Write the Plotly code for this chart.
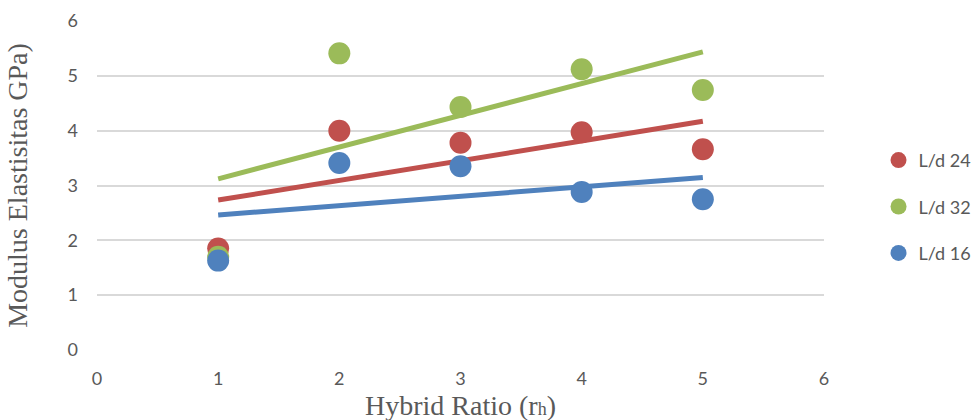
import numpy as np
import plotly.graph_objects as go

hybrid_ratio = [1, 2, 3, 4, 5]
ld24 = [1.85, 4.00, 3.78, 3.97, 3.66]
ld32 = [1.70, 5.41, 4.43, 5.12, 4.74]
ld16 = [1.63, 3.41, 3.35, 2.88, 2.75]

series = [
    ("L/d 24", ld24, "#C0504D"),
    ("L/d 32", ld32, "#9BBB59"),
    ("L/d 16", ld16, "#4F81BD"),
]

fig = go.Figure()
x = np.array(hybrid_ratio, dtype=float)
for name, ys, color in series:
    m, b = np.polyfit(x, np.array(ys), 1)
    xs = np.array([x.min(), x.max()])
    fig.add_trace(go.Scatter(x=xs, y=m * xs + b, mode="lines",
                             line=dict(color=color, width=5),
                             showlegend=False, hoverinfo="skip"))
for i, (name, ys, color) in enumerate(series):
    fig.add_trace(go.Scatter(x=hybrid_ratio, y=ys, mode="markers", name=name,
                             legendgroup=f"g{i}",
                             marker=dict(color=color, size=22)))

serif = "'Liberation Serif', 'Times New Roman', serif"
fig.update_layout(
    width=979, height=420,
    margin=dict(l=97, r=155, t=21, b=70, autoexpand=False),
    plot_bgcolor="white", paper_bgcolor="white",
    font=dict(family="Lato, 'Noto Sans', sans-serif", color="#595959", size=18),
    legend=dict(x=1.075, y=0.435, yanchor="middle", xanchor="left",
                tracegroupgap=20, font=dict(size=18, color="#595959")),
    xaxis=dict(range=[0, 6], dtick=1, showgrid=False, zeroline=False,
               showline=False, ticks="",
               tickfont=dict(size=18, color="#595959"),
               ticklabelstandoff=16),
    yaxis=dict(range=[0, 6], dtick=1, showgrid=True, gridcolor="#D9D9D9",
               gridwidth=1.5, zeroline=False, showline=False, ticks="",
               tickfont=dict(size=18, color="#595959"),
               ticklabelstandoff=18,
               title=dict(text="Modulus Elastisitas GPa)", standoff=31,
                          font=dict(family=serif, size=28, color="#595959"))),
    annotations=[dict(text="Hybrid Ratio (r<span style='font-size:18px'>h</span>)",
                      xref="paper", yref="paper",
                      x=0.5, y=-0.168, xanchor="center", yanchor="middle",
                      showarrow=False,
                      font=dict(family=serif, size=28, color="#595959"))],
)

fig.write_html("out.html")
